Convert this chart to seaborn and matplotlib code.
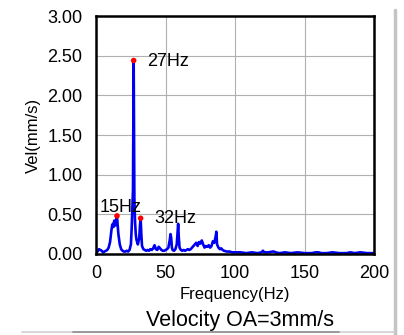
import matplotlib
matplotlib.use("Agg")
import matplotlib.pyplot as plt
import numpy as np
import pandas as pd
import seaborn as sns

# spectrum (rows of ten, freq and vel line up)
freq = [0, 1, 2, 3, 4, 5, 6, 7, 8, 9,
        10, 11, 11.5, 12, 12.5, 13, 13.5, 14, 14.5, 15,
        15.5, 16, 17, 18, 19, 20, 21, 22, 23, 24,
        25, 25.5, 26, 26.5, 27, 27.5, 28, 28.5, 29, 30,
        31, 31.5, 32, 32.5, 33, 34, 35, 36, 37, 38,
        39, 40, 41, 42, 43, 44, 45, 46, 47, 48,
        49, 50, 51, 52, 53, 53.5, 54, 54.5, 55, 56,
        57, 58, 58.5, 59, 59.5, 60, 61, 62, 63, 64,
        65, 66, 67, 68, 69, 70, 71, 72, 73, 74,
        75, 76, 77, 78, 79, 80, 81, 82, 83, 84,
        85, 86, 86.5, 87, 88, 89, 90, 91, 92, 94,
        96, 98, 100, 104, 108, 112, 116, 119, 120, 121,
        124, 127, 128, 129, 132, 136, 140, 145, 150, 155,
        158, 160, 162, 166, 170, 175, 180, 183, 186, 190,
        195, 200]
vel = [0.02, 0.03, 0.06, 0.05, 0.04, 0.02, 0.03, 0.04, 0.05, 0.08,
       0.15, 0.30, 0.36, 0.38, 0.34, 0.42, 0.40, 0.36, 0.44, 0.47,
       0.36, 0.25, 0.12, 0.06, 0.04, 0.03, 0.03, 0.04, 0.03, 0.05,
       0.12, 0.30, 0.55, 0.80, 2.44, 0.70, 0.40, 0.25, 0.18, 0.12,
       0.20, 0.35, 0.45, 0.25, 0.10, 0.06, 0.05, 0.04, 0.05, 0.04,
       0.06, 0.05, 0.07, 0.11, 0.06, 0.05, 0.09, 0.07, 0.05, 0.04,
       0.04, 0.05, 0.06, 0.08, 0.18, 0.25, 0.20, 0.08, 0.05, 0.04,
       0.06, 0.12, 0.25, 0.38, 0.20, 0.08, 0.05, 0.04, 0.05, 0.04,
       0.05, 0.06, 0.05, 0.06, 0.08, 0.10, 0.12, 0.14, 0.10, 0.15,
       0.13, 0.17, 0.12, 0.08, 0.10, 0.09, 0.11, 0.08, 0.10, 0.16,
       0.14, 0.22, 0.28, 0.12, 0.08, 0.06, 0.07, 0.05, 0.04, 0.03,
       0.03, 0.02, 0.02, 0.02, 0.01, 0.02, 0.01, 0.02, 0.04, 0.02,
       0.02, 0.03, 0.03, 0.02, 0.01, 0.02, 0.01, 0.02, 0.01, 0.01,
       0.02, 0.02, 0.01, 0.01, 0.02, 0.01, 0.01, 0.02, 0.01, 0.02,
       0.01, 0.01]

peak_freq = [15, 27, 32]
peak_vel = [0.48, 2.44, 0.45]
peak_labels = ["15Hz", "27Hz", "32Hz"]
label_pos = [(2.5, 0.58), (37, 2.43), (42, 0.45)]

df = pd.DataFrame({"freq": freq, "vel": vel})
peaks = pd.DataFrame({"freq": peak_freq, "vel": peak_vel})

sns.set_style("white")
plt.rcParams['font.family'] = ['Liberation Sans', 'DejaVu Sans']
plt.rcParams['text.color'] = 'black'
plt.rcParams['axes.labelcolor'] = 'black'
plt.rcParams['xtick.color'] = 'black'
plt.rcParams['ytick.color'] = 'black'

fig = plt.figure(figsize=(4.04, 3.35), dpi=100)
ax = fig.add_axes([0.238, 0.242, 0.688, 0.71])

sns.lineplot(data=df, x="freq", y="vel", color="#0000f0", linewidth=1.9, ax=ax)
sns.scatterplot(data=peaks, x="freq", y="vel", color="red", s=16, edgecolor="none", zorder=5, ax=ax)

for lab, (tx, ty) in zip(peak_labels, label_pos):
    ax.text(tx, ty, lab, fontsize=13, va="center", ha="left")

ax.set_xlim(0, 200)
ax.set_ylim(0, 3)
ax.set_xticks([0, 50, 100, 150, 200])
ax.set_yticks(np.arange(0, 3.01, 0.5))
ax.set_yticklabels([f"{v:.2f}" for v in np.arange(0, 3.01, 0.5)])
ax.grid(True, color="#b0b0b0", linewidth=0.8)
ax.tick_params(labelsize=13, length=0)
ax.tick_params(axis="y", pad=10)
ax.tick_params(axis="x", pad=8)
for s in ax.spines.values():
    s.set_color("black")
    s.set_linewidth(1.8)

ax.set_xlabel("Frequency(Hz)", fontsize=12)
ax.set_ylabel("Vel(mm/s)", fontsize=12)
ax.xaxis.set_label_coords(0.5, -0.172)
ax.xaxis.label.set_va("center")
ax.yaxis.set_label_coords(-0.227, 0.5)
ax.yaxis.label.set_va("center")

fig.text(0.595, 0.042, "Velocity OA=3mm/s", fontsize=15.5, ha="center", va="center")

# faint frame shadow on the right and bottom
fig.add_artist(plt.Line2D([0.977, 0.977], [0.0, 0.97], color="#c4c4c4", linewidth=2.5))
fig.add_artist(plt.Line2D([0.055, 0.977], [0.009, 0.009], color="#d0d0d0", linewidth=1.2))
fig.add_artist(plt.Line2D([0.18, 0.84], [0.009, 0.009], color="#909090", linewidth=1.2))

fig.savefig("out.png", dpi=100)
